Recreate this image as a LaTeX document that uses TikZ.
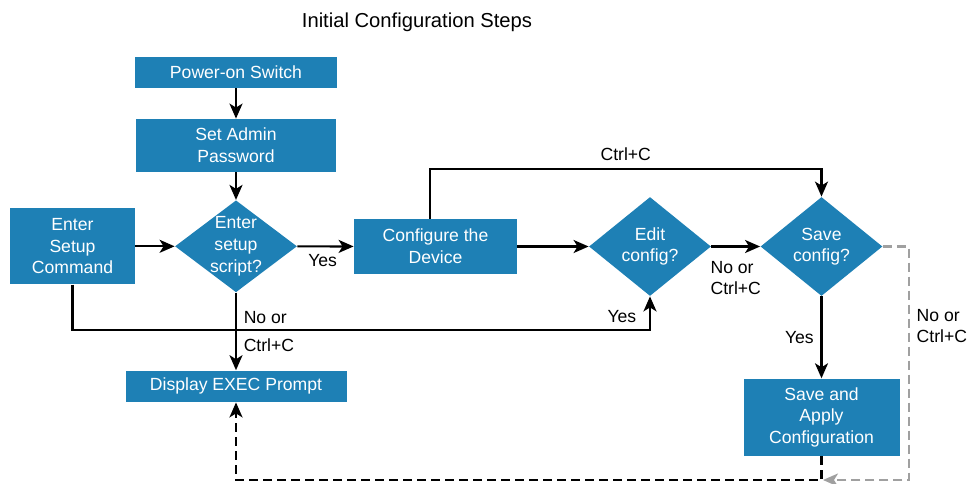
\documentclass[tikz,border=0pt]{standalone}
\usepackage{fontspec}
\setmainfont{Liberation Sans}
\usetikzlibrary{arrows.meta,positioning,shapes.geometric}
\definecolor{stepblue}{RGB}{30,128,181}
\definecolor{skipgray}{RGB}{160,160,160}

\begin{document}
\begin{tikzpicture}[
  x=0.5pt, y=-0.5pt,
  font=\fontsize{8.8}{10.8}\selectfont,
  box/.style={fill=stepblue, text=white, align=center, inner sep=0pt},
  decision/.style={diamond, fill=stepblue, inner sep=0pt, minimum width=61pt, minimum height=#1},
  dtext/.style={text=white, align=center},
  flow/.style={draw=black, line width=1.1pt, -{Stealth[length=7.5pt,width=6.5pt,inset=2pt]}},
  bdash/.style={flow, dash pattern=on 4.5pt off 2.5pt},
  gdash/.style={bdash, draw=skipgray, -{Stealth[length=7.5pt,width=6.5pt,inset=2pt,fill=skipgray]}}
]
\useasboundingbox (0,0) rectangle (971,483);
\node[font=\fontsize{10.1}{12}\selectfont] (title) at (417,22) {Initial Configuration Steps};
\node[box, minimum width=101pt, minimum height=15.5pt] (power) at (236,72.5) {Power-on Switch};
\node[box, minimum width=100pt, minimum height=26.5pt] (admin) at (236,145.5) {Set Admin\\Password};
\node[box, minimum width=62.5pt, minimum height=38pt] (setup) at (72.5,246.3) {Enter\\Setup\\Command};
\node[decision=46pt, label={[dtext]center:Enter\\setup\\script?}] (script) at (236,246.3) {};
\node[box, minimum width=81.5pt, minimum height=27.5pt] (config) at (435.5,246.5) {Configure the\\Device};
\node[decision=49.5pt, label={[dtext]center:Edit\\config?}] (edit) at (650,246.5) {};
\node[decision=49.5pt, label={[dtext]center:Save\\config?}] (save) at (821.5,246.5) {};
\node[box, minimum width=110.5pt, minimum height=15.7pt] (exec) at (236,386.3) {Display EXEC Prompt};
\node[box, minimum width=78pt, minimum height=38.5pt] (apply) at (821.5,417.2) {Save and\\Apply\\Configuration};
\coordinate (join) at (823,480);

\draw[flow] (power) -- (admin);
\draw[flow] (admin) -- (script);
\draw[flow] (setup) -- (script);
\draw[flow] (script) -- node[below, pos=0.45] {Yes} (config);
\draw[flow] (config) -- (edit);
\draw[flow] (edit) -- node[below=3.5pt, align=left] {No or\\Ctrl+C} (save);
\draw[flow] ([xshift=-2.75pt]config.north) -- ++(0,-50) -| node[above, pos=0.25] {Ctrl+C} (save.north);
\draw[flow] (setup.south) -- ++(0,45) -| node[left=3pt, pos=0.7] {Yes} (edit.south);
\draw[flow] (script.south) -- node[right, align=left] {No or\\[3.6pt]Ctrl+C} (exec.north);
\draw[flow] (save) -- node[left] {Yes} (apply);
\draw[gdash] (save.east) -- ++(26,0) |- node[right, align=left, pos=0.17] {No or\\Ctrl+C} (join);
\draw[bdash] (apply.south) -- ++(0,24) -| (exec.south);
\end{tikzpicture}
\end{document}
